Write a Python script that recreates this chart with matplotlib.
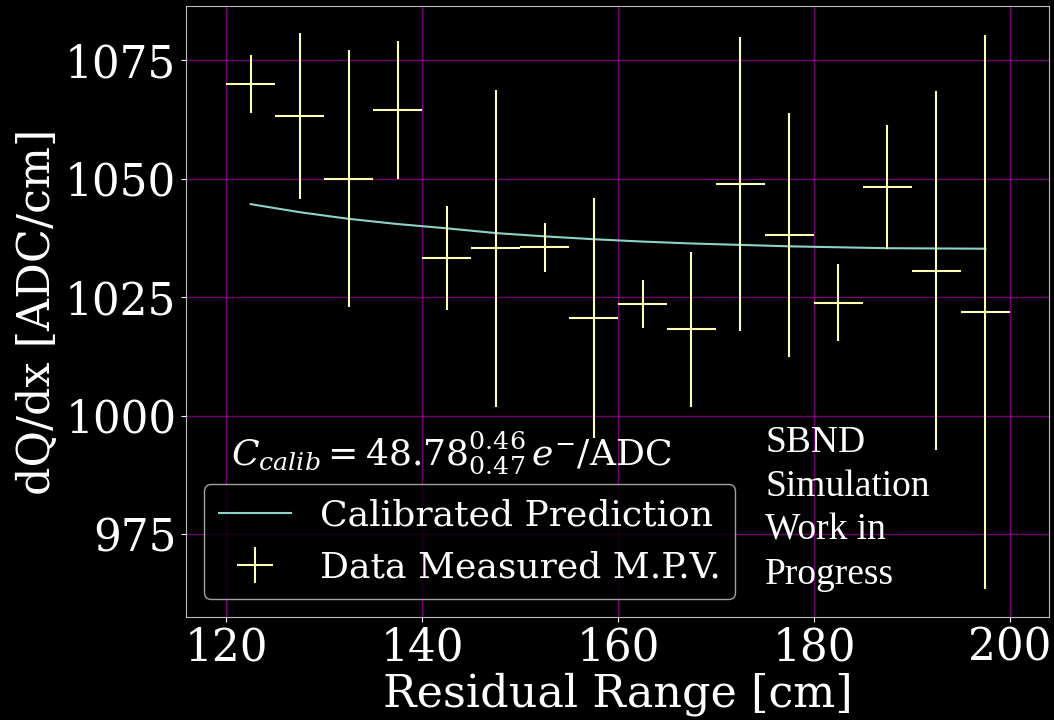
import numpy as np
import matplotlib
matplotlib.use('Agg')
import matplotlib.pyplot as plt

# Residual range bins (cm) and measured dQ/dx MPVs
rr_centres = [122.5, 127.5, 132.5, 137.5, 142.5, 147.5, 152.5, 157.5,
              162.5, 167.5, 172.5, 177.5, 182.5, 187.5, 192.5, 197.5]
rr_halfwidth = 2.5
mpv = [1069.9, 1063.1, 1050.0, 1064.5, 1033.2, 1035.3, 1035.5, 1020.6,
       1023.5, 1018.2, 1048.8, 1038.1, 1023.8, 1048.2, 1030.6, 1021.8]
mpv_err = [6.1, 17.5, 27.1, 14.6, 11.0, 33.4, 5.2, 25.3,
           5.0, 16.4, 31.0, 25.7, 8.1, 13.0, 37.9, 58.4]

# Calibrated prediction evaluated at the bin centres
prediction = [1044.6, 1042.9, 1041.5, 1040.4, 1039.5, 1038.5, 1037.8, 1037.2,
              1036.7, 1036.3, 1036.0, 1035.7, 1035.5, 1035.3, 1035.25, 1035.2]

plt.style.use('dark_background')
plt.rcParams['font.family'] = 'DejaVu Serif'
plt.rcParams['mathtext.fontset'] = 'dejavuserif'

fig = plt.figure(figsize=(10.54, 7.2), dpi=100)
ax = fig.add_axes([0.1765, 0.143, 0.8188, 0.8487])

ax.plot(rr_centres, prediction, color='#8dd3c7', label='Calibrated Prediction')
ax.errorbar(rr_centres, mpv, xerr=rr_halfwidth, yerr=mpv_err,
            fmt='none', ecolor='#feffb3', label='Data Measured M.P.V.')

ax.set_xlim(115.9, 204.0)
ax.set_ylim(957.5, 1086.4)
ax.set_xticks([120, 140, 160, 180, 200])
ax.set_yticks([975, 1000, 1025, 1050, 1075])
ax.grid(True, color='m', alpha=0.6, linewidth=1)
ax.tick_params(labelsize=31.5)
for spine in ax.spines.values():
    spine.set_color('#bbbbbb')

ax.set_xlabel('Residual Range [cm]', fontsize=32, labelpad=2)
ax.set_ylabel('dQ/dx [ADC/cm]', fontsize=32, labelpad=4)

ax.text(0.052, 0.249, r'$C_{calib} = 48.78^{0.46}_{0.47}\,e^{-}$/ADC',
        transform=ax.transAxes, fontsize=26, va='baseline')
ax.text(0.671, 0.313, 'SBND\nSimulation\nWork in\nProgress',
        transform=ax.transAxes, fontsize=27, va='top', linespacing=1.35,
        family='Liberation Serif')

ax.legend(loc='lower left', fontsize=26)

fig.savefig('out.png', dpi=100)
